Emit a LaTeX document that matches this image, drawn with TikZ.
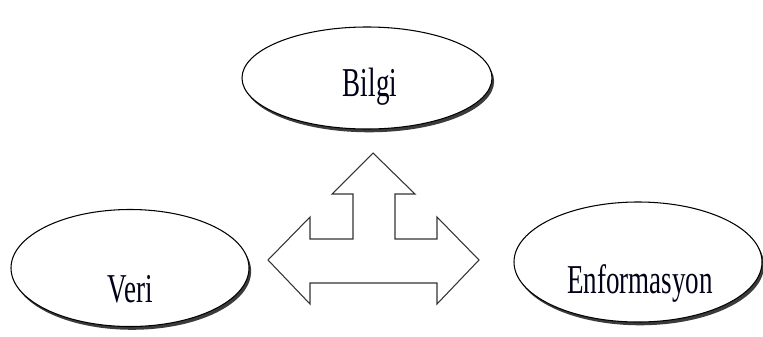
\documentclass[tikz,border=0pt]{standalone}
\usepackage{fontspec}
\setmainfont{Liberation Serif}
\usetikzlibrary{shapes.geometric,shadows}
\newcommand{\narrow}[1]{\scalebox{0.66}[1]{#1}}
\begin{document}
\begin{tikzpicture}[x=0.03cm, y=-0.03cm,
  blob/.style={ellipse, draw=black, line width=0.9pt, fill=white,
    drop shadow={shadow xshift=1.8pt, shadow yshift=-2.8pt, fill=black!85, opacity=0.9}},
  word/.style={font=\fontsize{35}{40}\selectfont, text=black!90!blue, inner sep=0pt}]
\useasboundingbox (0,0) rectangle (763,336);

% Ellipses
\node[blob, minimum width=7.5cm, minimum height=3.06cm] (bilgi) at (367,78) {};
\node[blob, minimum width=7.14cm, minimum height=3.51cm] (veri) at (130,268) {};
\node[blob, minimum width=7.44cm, minimum height=3.6cm] (enfo) at (638,262) {};

% Labels
\node[word] (bilgitext) at (370,87) {\narrow{Bilgi}};
\node[word] (veritext) at (130,289) {\narrow{Veri}};
\node[word] (enfotext) at (640,283) {\narrow{Enformasyon}};

% Three-way block arrow
\draw[line width=0.9pt, black!80, line join=miter]
  (373,153) -- (415,194) -- (395,194) -- (395,239) -- (437,239) -- (437,217)
  -- (479,260) -- (437,304) -- (437,283) -- (310,283) -- (310,304)
  -- (268,260) -- (310,217) -- (310,239) -- (353,239) -- (353,194)
  -- (332,194) -- cycle;
\end{tikzpicture}
\end{document}
